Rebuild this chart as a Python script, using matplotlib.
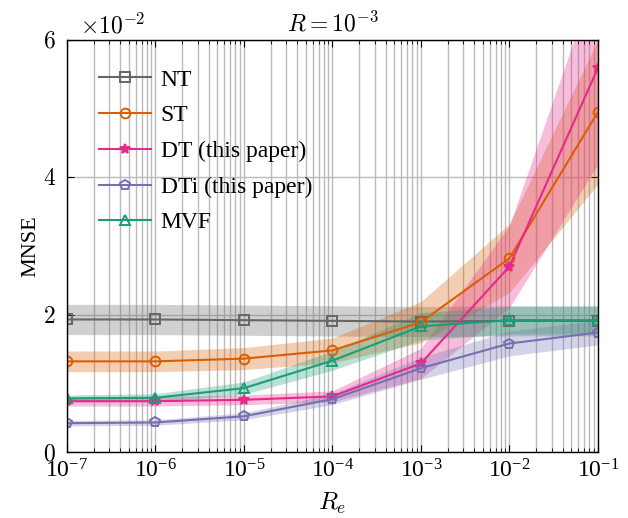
import numpy as np
import matplotlib.pyplot as plt
from matplotlib.ticker import LogLocator, FixedLocator, NullFormatter

plt.rcParams["mathtext.fontset"] = "cm"
plt.rcParams["font.family"] = ["Liberation Serif", "DejaVu Serif"]

# valores de MNSE en unidades de 1e-2
re_vals = [1e-7, 1e-6, 1e-5, 1e-4, 1e-3, 1e-2, 1e-1]

nt = [1.93, 1.93, 1.92, 1.91, 1.90, 1.91, 1.91]
nt_sd = [0.22, 0.22, 0.22, 0.22, 0.22, 0.22, 0.22]

st = [1.32, 1.32, 1.36, 1.48, 1.89, 2.82, 4.95]
st_sd = [0.15, 0.15, 0.16, 0.18, 0.30, 0.50, 1.05]

dt = [0.74, 0.74, 0.76, 0.81, 1.29, 2.70, 5.59]
dt_sd = [0.07, 0.07, 0.07, 0.08, 0.22, 0.60, 1.40]

dti = [0.42, 0.43, 0.52, 0.77, 1.22, 1.58, 1.74]
dti_sd = [0.04, 0.04, 0.05, 0.08, 0.16, 0.18, 0.18]

mvf = [0.78, 0.79, 0.93, 1.33, 1.83, 1.92, 1.92]
mvf_sd = [0.05, 0.06, 0.09, 0.14, 0.20, 0.20, 0.20]

series = [
    ("NT", nt, nt_sd, "#666666", "s", "none"),
    ("ST", st, st_sd, "#d95f02", "o", "none"),
    ("DT (this paper)", dt, dt_sd, "#e7298a", "*", "#e7298a"),
    ("DTi (this paper)", dti, dti_sd, "#7570b3", "p", "none"),
    ("MVF", mvf, mvf_sd, "#1b9e77", "^", "none"),
]

fig = plt.figure(figsize=(6.28, 5.18), dpi=100)
ax = fig.add_axes([0.1067, 0.1274, 0.8453, 0.7954])

for nombre, y, sd, color, mk, mfc in series:
    y = np.array(y)
    sd = np.array(sd)
    ax.fill_between(re_vals, y - sd, y + sd, color=color, alpha=0.3, lw=0)
    ax.plot(re_vals, y, color=color, lw=1.5, marker=mk, ms=7,
            mfc=mfc, mec=color, mew=1.4, label=nombre)

ax.set_xscale("log")
ax.set_xlim(1e-7, 1e-1)
ax.set_ylim(0, 6)
ax.yaxis.set_major_locator(FixedLocator([0, 2, 4, 6]))
ax.set_yticklabels(["$0$", "$2$", "$4$", "$6$"])
ax.xaxis.set_major_locator(LogLocator(base=10, numticks=10))
ax.xaxis.set_minor_locator(LogLocator(base=10, subs=np.arange(2, 10), numticks=100))
ax.xaxis.set_minor_formatter(NullFormatter())

ax.grid(True, which="major", axis="both", color="#bbbbbb", lw=1.0)
ax.grid(True, which="minor", axis="x", color="#bbbbbb", lw=1.0)
ax.set_axisbelow(True)

ax.tick_params(which="both", direction="in", top=True, right=True, labelsize=17, pad=5)
ax.tick_params(axis="y", pad=8)
ax.tick_params(which="major", length=5)
ax.tick_params(which="minor", length=3)
for s in ax.spines.values():
    s.set_linewidth(1.0)

ax.set_xlabel("$R_e$", fontsize=18, labelpad=6)
ax.set_ylabel("MNSE", fontsize=16, labelpad=2)
ax.set_title("$R = 10^{-3}$", fontsize=17, pad=6)
ax.text(0.025, 1.005, r"$\times 10^{-2}$", transform=ax.transAxes, fontsize=17,
        ha="left", va="bottom")

ax.legend(loc="upper left", bbox_to_anchor=(0.025, 0.975), frameon=False, fontsize=17,
          handlelength=2.2, handletextpad=0.4, labelspacing=0.6, borderpad=0.3)

fig.savefig("out.png", dpi=100)
